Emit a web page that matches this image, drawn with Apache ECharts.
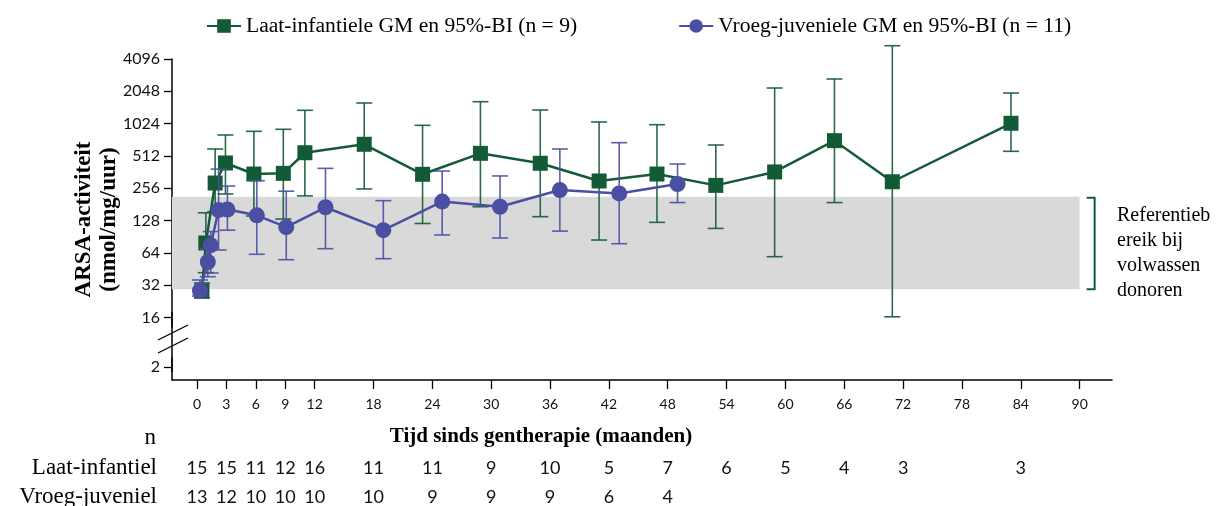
<!DOCTYPE html>
<html><head><meta charset="utf-8">
<script src="https://cdn.jsdelivr.net/npm/echarts@6/dist/echarts.min.js"></script>
<style>html,body{margin:0;padding:0;background:#fff}#c{width:1229px;height:506px}</style>
</head><body><div id="c"></div>
<script>
// ---- data (nmol/mg/uur, months) ----
const laatMonths = [0.5, 0.9, 1.85, 2.9, 5.8, 8.8, 11, 17.05, 23, 28.9, 35, 41, 46.9, 52.9, 58.9, 65, 70.9, 83];
const laatGM   = [28.2, 79, 286, 440, 347, 352, 548, 657, 345, 541, 437, 299, 347, 272, 363, 710, 294, 1031];
const laatLow  = [24.3, 41.8, 154, 226, 141, 132, 217, 252, 120, 172, 139, 84.2, 123, 108, 58.9, 188, 16.2, 565];
const laatHigh = [33.5, 151, 594, 802, 868, 906, 1362, 1594, 987, 1638, 1371, 1060, 1000, 647, 2198, 2667, 5450, 1974];

const vroegMonths = [0.3, 1.1, 1.4, 2.2, 3.1, 6.1, 9.1, 13.1, 19, 25, 30.9, 37, 43.05, 49];
const vroegGM   = [28.4, 52.5, 75.6, 160, 162, 143, 111, 170, 104, 192, 172, 246, 229, 280];
const vroegLow  = [25.3, 38.3, 41.5, 68, 104, 62, 55.2, 69.9, 56.4, 93.8, 87.9, 102, 77.8, 188];
const vroegHigh = [35.7, 69.5, 101, 386, 268, 301, 240, 392, 196, 370, 333, 594, 680, 430];

const refRange = [29.3, 213];
const yTicks = [2, 16, 32, 64, 128, 256, 512, 1024, 2048, 4096];
const xTicks = [0, 3, 6, 9, 12, 18, 24, 30, 36, 42, 48, 54, 60, 66, 72, 78, 84, 90];
const laatNMonths = [0, 3, 6, 9, 12, 18, 24, 30, 36, 42, 48, 54, 60, 66, 72, 84];
const laatN = [15, 15, 11, 12, 16, 11, 11, 9, 10, 5, 7, 6, 5, 4, 3, 3];
const vroegNMonths = [0, 3, 6, 9, 12, 18, 24, 30, 36, 42, 48];
const vroegN = [13, 12, 10, 10, 10, 10, 9, 9, 9, 6, 4];

const legendNames = ['Laat-infantiele GM en 95%-BI (n = 9)', 'Vroeg-juveniele GM en 95%-BI (n = 11)'];
const rowNames = ['Laat-infantiel', 'Vroeg-juveniel'];

// ---- styling ----
const GREEN = '#135a37';
const BLUE = '#4a4fa2';
const SERIF = '"Liberation Serif", "Times New Roman", serif';
const SANS = 'Lato, "Open Sans", sans-serif';
const X_MIN = -2.55, X_MAX = 93.3;
const L2 = Math.log2;

function errRender(color) {
  return function (params, api) {
    const x = api.value(0);
    const pLo = api.coord([x, api.value(1)]);
    const pHi = api.coord([x, api.value(2)]);
    const w = 8;
    const style = { stroke: color, lineWidth: 1.6, opacity: 0.9 };
    return {
      type: 'group', children: [
        { type: 'line', shape: { x1: pLo[0], y1: pLo[1], x2: pHi[0], y2: pHi[1] }, style },
        { type: 'line', shape: { x1: pLo[0] - w, y1: pLo[1], x2: pLo[0] + w, y2: pLo[1] }, style },
        { type: 'line', shape: { x1: pHi[0] - w, y1: pHi[1], x2: pHi[0] + w, y2: pHi[1] }, style }
      ]
    };
  };
}

function countAxis(months, counts, name, offset) {
  return {
    type: 'value', gridIndex: 0, position: 'bottom', offset: offset,
    min: X_MIN, max: X_MAX,
    axisLine: { show: false, onZero: false }, axisTick: { show: false }, splitLine: { show: false },
    axisLabel: {
      customValues: months, margin: 0, verticalAlign: 'middle',
      formatter: v => String(counts[months.indexOf(v)]),
      fontFamily: SANS, fontSize: 18, color: '#111'
    },
    name: name, nameLocation: 'start', nameGap: 15,
    nameTextStyle: { fontFamily: SERIF, fontSize: 23, color: '#000', verticalAlign: 'middle' }
  };
}

const chart = echarts.init(document.getElementById('c'), null, { renderer: 'canvas' });
chart.setOption({
  animation: false,
  backgroundColor: '#fff',
  grid: { left: 172, top: 59, right: 117, bottom: 126, outerBoundsMode: 'none' },
  legend: {
    data: legendNames, left: 201, top: 10, itemWidth: 34, itemHeight: 17, itemGap: 101,
    textStyle: { fontFamily: SERIF, fontSize: 21.6, color: '#000' }
  },
  xAxis: [
    {
      type: 'value', min: X_MIN, max: X_MAX,
      axisLine: { onZero: false, lineStyle: { color: '#000', width: 1.5 } },
      axisTick: { customValues: xTicks, length: 9, lineStyle: { color: '#000', width: 1.3 } },
      axisLabel: { customValues: xTicks, margin: 17, fontFamily: SANS, fontSize: 14, color: '#111' },
      splitLine: { show: false }
    },
    countAxis(laatNMonths, laatN, rowNames[0], 88),
    countAxis(vroegNMonths, vroegN, rowNames[1], 117)
  ],
  yAxis: {
    type: 'value', min: 0.598, max: 12,
    breaks: [{ start: 1.3, end: 3.7, gap: 0.936 }],
    breakArea: { show: false, expandOnClick: false },
    axisLine: { show: true, onZero: false, lineStyle: { color: '#000', width: 1.5 } },
    axisTick: { show: true, customValues: yTicks.map(L2), length: 8, lineStyle: { color: '#000', width: 1.3 } },
    axisLabel: {
      customValues: yTicks.map(L2), margin: 12,
      formatter: v => String(Math.round(Math.pow(2, v))),
      fontFamily: SANS, fontSize: 16, color: '#111'
    },
    splitLine: { show: false },
    name: 'ARSA-activiteit\n(nmol/mg/uur)', nameLocation: 'middle', nameRotate: 90, nameGap: 50,
    nameMoveOverlap: false,
    nameTextStyle: { fontFamily: SERIF, fontWeight: 'bold', fontSize: 23, lineHeight: 25, color: '#000' }
  },
  series: [
    {
      type: 'line', data: [], silent: true, z: 0,
      markArea: {
        silent: true, itemStyle: { color: '#d9d9d9' },
        data: [[{ xAxis: X_MIN, yAxis: L2(refRange[0]) }, { xAxis: 90, yAxis: L2(refRange[1]) }]]
      }
    },
    {
      type: 'custom', name: 'bracket', silent: true, clip: false, z: 1,
      data: [[90, L2(refRange[0]), L2(refRange[1])]],
      renderItem: function (params, api) {
        const pLo = api.coord([api.value(0), api.value(1)]);
        const pHi = api.coord([api.value(0), api.value(2)]);
        const x1 = pLo[0] + 7, x2 = pLo[0] + 15;
        return {
          type: 'polyline',
          shape: { points: [[x1, pHi[1] + 1], [x2, pHi[1] + 1], [x2, pLo[1]], [x1, pLo[1]]] },
          style: { stroke: GREEN, lineWidth: 2, fill: null }
        };
      }
    },
    {
      type: 'custom', name: 'laatErr', silent: true, clip: false, z: 2,
      data: laatMonths.map((m, i) => [m, L2(laatLow[i]), L2(laatHigh[i])]),
      encode: { x: 0, y: [1, 2] }, renderItem: errRender(GREEN)
    },
    {
      type: 'line', name: legendNames[0], z: 3,
      data: laatMonths.map((m, i) => [m, L2(laatGM[i])]),
      symbol: 'rect', symbolSize: 15, clip: false,
      lineStyle: { color: GREEN, width: 2.5 }, itemStyle: { color: GREEN }
    },
    {
      type: 'custom', name: 'vroegErr', silent: true, clip: false, z: 4,
      data: vroegMonths.map((m, i) => [m, L2(vroegLow[i]), L2(vroegHigh[i])]),
      encode: { x: 0, y: [1, 2] }, renderItem: errRender(BLUE)
    },
    {
      type: 'line', name: legendNames[1], z: 5,
      data: vroegMonths.map((m, i) => [m, L2(vroegGM[i])]),
      symbol: 'circle', symbolSize: 16, clip: false,
      lineStyle: { color: BLUE, width: 2.5 }, itemStyle: { color: BLUE }
    }
  ],
  graphic: [
    { type: 'line', shape: { x1: 172, y1: 312, x2: 172, y2: 372 }, style: { stroke: '#000', lineWidth: 1.5 }, z: 9 },
    { type: 'line', shape: { x1: 158, y1: 340, x2: 188, y2: 325 }, style: { stroke: '#000', lineWidth: 1.3 }, z: 10 },
    { type: 'line', shape: { x1: 158, y1: 353, x2: 188, y2: 338 }, style: { stroke: '#000', lineWidth: 1.3 }, z: 10 },
    {
      type: 'text', left: 1117, top: 203,
      style: { text: 'Referentieb\nereik bij\nvolwassen\ndonoren', font: '20px ' + SERIF, lineHeight: 25, fill: '#000' }
    },
    {
      type: 'text', x: 541, y: 437,
      style: { text: 'Tijd sinds gentherapie (maanden)', font: 'bold 21px ' + SERIF, fill: '#000', align: 'center', verticalAlign: 'middle' }
    },
    {
      type: 'text', x: 156, y: 438,
      style: { text: 'n', font: '23px ' + SERIF, fill: '#000', align: 'right', verticalAlign: 'middle' }
    }
  ]
});
</script>
</body></html>
